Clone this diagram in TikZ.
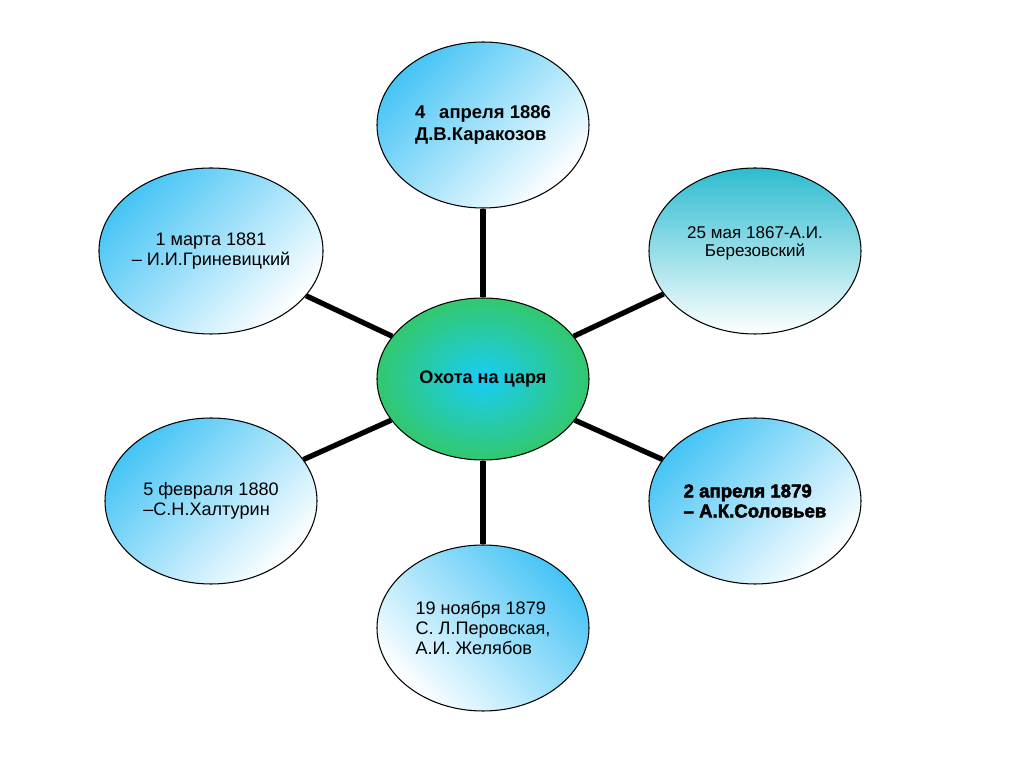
\documentclass[tikz,border=0pt]{standalone}
\usepackage{fontspec}
\setmainfont{Liberation Sans}
\newfontfamily\heavyfont[FakeBold=2.5]{Liberation Sans Bold}
\usepackage{xcolor}
\usepackage{tikz}
\usetikzlibrary{shapes.geometric}

\definecolor{skyblue}{RGB}{70,196,245}
\definecolor{topteal}{RGB}{45,188,208}
\definecolor{hubgreen}{RGB}{50,200,110}
\definecolor{hubcyan}{RGB}{25,205,245}

\begin{document}
\begin{tikzpicture}[
  font=\fontsize{10.3}{11.4}\selectfont,
  bubble/.style={ellipse, draw, line width=0.6pt, minimum width=4.24cm, minimum height=3.32cm, inner sep=0pt, align=left},
  bluefade/.style={bubble, top color=skyblue, middle color=skyblue!22, bottom color=white, shading angle=#1},
  spoke/.style={line width=3pt}
]
\useasboundingbox (0,0) rectangle (20.48,-15.34);
\node[bluefade=45, font=\fontsize{10.5}{13}\selectfont\bfseries] (karakozov) at (9.66,-2.5) {4\hspace{0.75em}апреля 1886\\Д.В.Каракозов};
\node[bubble, top color=topteal, middle color=topteal!35, bottom color=white, align=center, font=\fontsize{9.7}{10.3}\selectfont] (berezovsky) at (15.1,-5.02) {25 мая 1867-А.И.\\Березовский\\ \mbox{}};
\node[bluefade=45, font=\fontsize{10.6}{11.4}\selectfont\heavyfont] (solovyov) at (15.1,-10.02) {2 апреля 1879\\– А.К.Соловьев};
\node[bluefade=-45] (perovskaya) at (9.66,-12.56) {19 ноября 1879\\С. Л.Перовская,\\А.И. Желябов};
\node[bluefade=45] (khalturin) at (4.22,-10.02) {5 февраля 1880\\–С.Н.Халтурин};
\node[bluefade=45, align=center] (grinevitsky) at (4.22,-5.02) {1 марта 1881\\– И.И.Гриневицкий};
\node[bubble, minimum height=3.24cm, inner color=hubcyan, outer color=hubgreen, align=center, font=\fontsize{10.3}{11.4}\selectfont\bfseries] (hunt) at (9.66,-7.58) {Охота на царя};
\draw[spoke] (hunt) -- (karakozov);
\draw[spoke] (hunt) -- (berezovsky);
\draw[spoke] (hunt) -- (solovyov);
\draw[spoke] (hunt) -- (perovskaya);
\draw[spoke] (hunt) -- (khalturin);
\draw[spoke] (hunt) -- (grinevitsky);
\end{tikzpicture}
\end{document}
